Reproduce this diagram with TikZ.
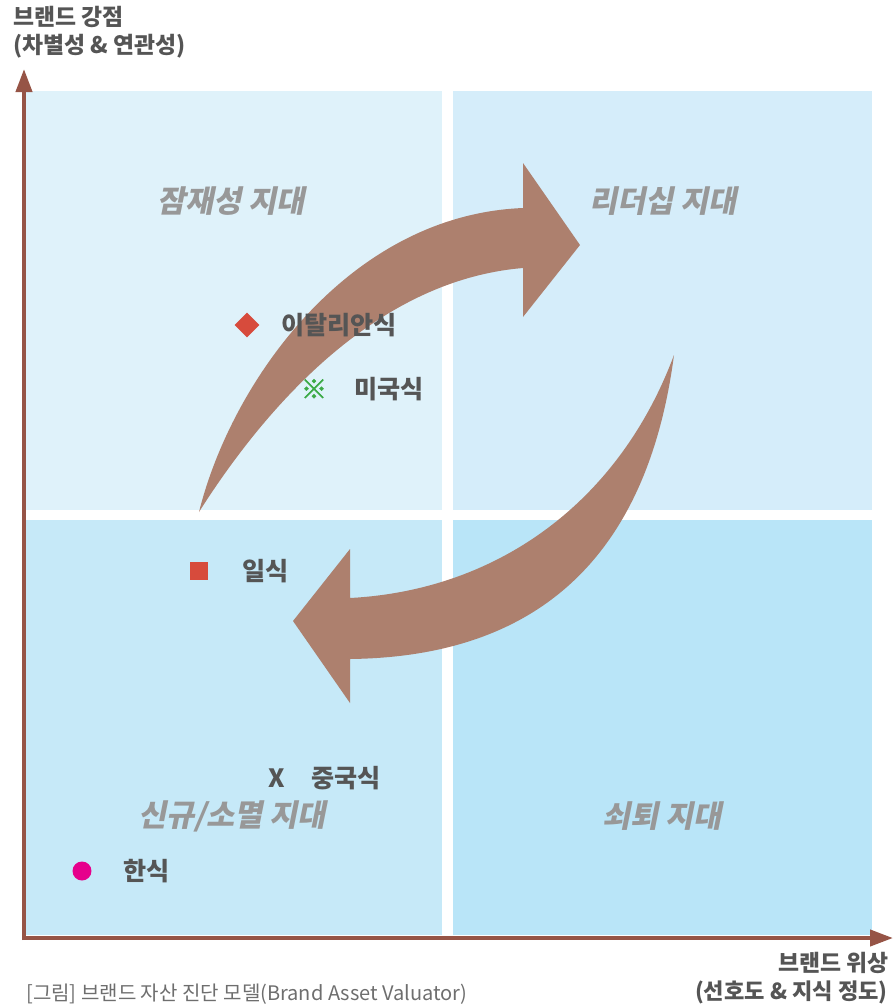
\documentclass[tikz,border=0pt]{standalone}
\usepackage{fontspec}
\usepackage{tikz}
\usetikzlibrary{shapes.geometric,arrows.meta,positioning}
\newfontfamily\krfont{Noto Sans CJK KR}
\newfontfamily\krslant[FakeSlant=0.2]{Noto Sans CJK KR}
\newfontfamily\krmark[FakeBold=1.5]{Noto Sans CJK KR}
\definecolor{axisbrown}{RGB}{150,84,70}
\definecolor{arrowbrown}{RGB}{173,128,110}
\definecolor{qtl}{RGB}{223,242,250}
\definecolor{qtr}{RGB}{213,237,250}
\definecolor{qbl}{RGB}{198,233,248}
\definecolor{qbr}{RGB}{185,229,248}
\definecolor{labelgray}{RGB}{85,85,85}
\definecolor{zonegray}{RGB}{152,152,152}
\definecolor{capgray}{RGB}{110,110,110}
\definecolor{markred}{RGB}{215,75,60}
\definecolor{markgreen}{RGB}{60,170,70}
\definecolor{markpink}{RGB}{230,0,140}

\begin{document}
\begin{tikzpicture}[x=0.02cm,y=-0.02cm,
    axis/.style={axisbrown,line width=2.3pt,-{Triangle[width=0.32cm,length=0.46cm]}},
    axislabel/.style={inner sep=0,text=labelgray,font=\krfont\bfseries\fontsize{13}{15}\selectfont},
    zone/.style={inner sep=0,text=zonegray,font=\krslant\bfseries\fontsize{17.4}{19}\selectfont},
    item/.style={inner sep=0,anchor=west,text=labelgray,font=\krfont\bfseries\fontsize{14.3}{16}\selectfont},
    bigarrow/.style={fill=arrowbrown}]
    \useasboundingbox (0,0) rectangle (893,1005);

    % quadrants
    \fill[qtl] (26,91) rectangle (442,510);
    \fill[qtr] (453,91) rectangle (872,510);
    \fill[qbl] (26,520) rectangle (442,935);
    \fill[qbr] (453,520) rectangle (872,935);

    % zone names
    \node[zone] (zonepot) at (231,201) {잠재성 지대};
    \node[zone] (zonelead) at (663,201) {리더십 지대};
    \node[zone] (zonenew) at (232,816) {신규/소멸 지대};
    \node[zone] (zonedecl) at (662,816) {쇠퇴 지대};

    % curved arrows
    \fill[bigarrow] (199,512) .. controls (232,380) and (350,215) .. (523,208)
        -- (523,163) -- (580,245) -- (523,317) -- (523,268)
        .. controls (380,280) and (270,400) .. (199,512) -- cycle;
    \fill[bigarrow] (674,355) .. controls (645,575) and (520,657) .. (350,659)
        -- (350,703) -- (293,621) -- (350,549) -- (350,598)
        .. controls (500,590) and (620,500) .. (674,355) -- cycle;

    % cuisines
    \node[diamond,fill=markred,inner sep=0,minimum size=0.5cm] (italian) at (247,325) {};
    \node[item] (italianlabel) at (281,325) {이탈리안식};
    \node[inner sep=0,text=markgreen,font=\krmark\fontsize{15}{17}\selectfont] (american) at (314,389) {※};
    \node[item] (americanlabel) at (354,389) {미국식};
    \node[rectangle,fill=markred,inner sep=0,minimum size=0.36cm] (japanese) at (199,571) {};
    \node[item] (japaneselabel) at (242,571) {일식};
    \node[item,anchor=center] (chinese) at (277,778) {X};
    \node[item] (chineselabel) at (311,778) {중국식};
    \node[circle,fill=markpink,inner sep=0,minimum size=0.38cm] (korean) at (82,871) {};
    \node[item] (koreanlabel) at (123,871) {한식};

    % axes
    \coordinate (origin) at (24,938);
    \coordinate (ytip) at (24,69);
    \coordinate (xtip) at (893,938);
    \draw[axis] (24,940) -- (ytip);
    \draw[axis] (22,938) -- (xtip);

    % axis titles
    \node[axislabel,anchor=west] (ytitle) at (13,17) {브랜드 강점};
    \node[axislabel,anchor=west] (ysub) at (13,46) {(차별성 \& 연관성)};
    \node[axislabel,anchor=east] (xtitle) at (889,963) {브랜드 위상};
    \node[axislabel,anchor=east,font=\krfont\bfseries\fontsize{12.6}{15}\selectfont] (xsub) at (888,992) {(선호도 \& 지식 정도)};

    % caption
    \node[inner sep=0,anchor=west,text=capgray,font=\krfont\fontsize{11.4}{13}\selectfont] (caption) at (26,994) {[그림] 브랜드 자산 진단 모델(Brand Asset Valuator)};
\end{tikzpicture}
\end{document}
